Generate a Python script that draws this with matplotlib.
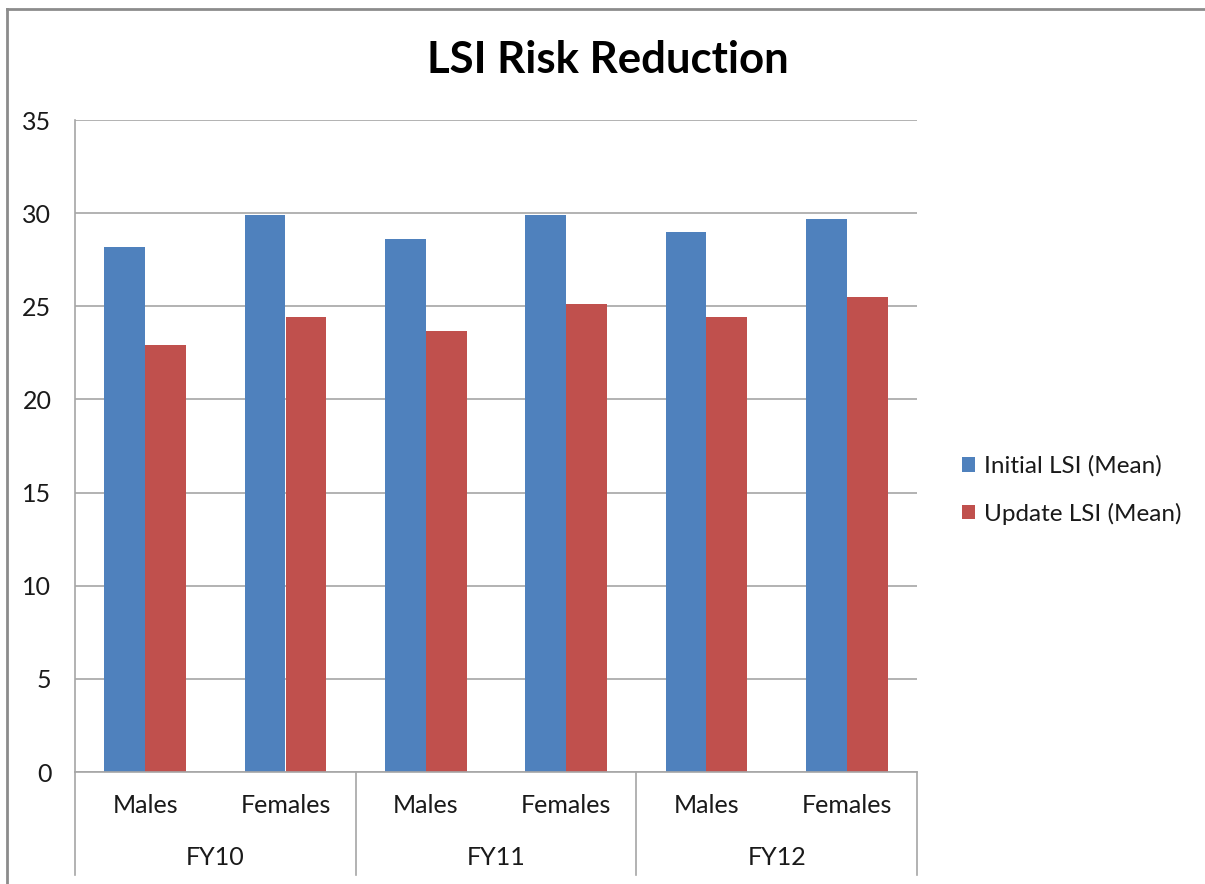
import matplotlib.pyplot as plt
from matplotlib.lines import Line2D

years = ['FY10', 'FY11', 'FY12']
groups = ['Males', 'Females', 'Males', 'Females', 'Males', 'Females']
initial_lsi = [28.2, 29.9, 28.6, 29.9, 29.0, 29.7]
update_lsi = [22.9, 24.4, 23.7, 25.1, 24.4, 25.5]

plt.rcParams['font.family'] = ['Lato', 'DejaVu Sans']

W, H = 1205, 884
fig = plt.figure(figsize=(W / 100, H / 100), dpi=100)
ax = fig.add_axes([75 / W, 1 - 772 / H, (917 - 75) / W, (772 - 120) / H])

x = list(range(len(groups)))
bw = 0.29
ax.bar([i - bw / 2 for i in x], initial_lsi, bw, color='#4F81BD', label='Initial LSI (Mean)')
ax.bar([i + bw / 2 for i in x], update_lsi, bw, color='#C0504D', label='Update LSI (Mean)')

ax.set_xlim(-0.5, len(groups) - 0.5)
ax.set_ylim(0, 35)
ax.set_yticks(range(0, 36, 5))
ax.yaxis.grid(True, color='#A6A6A6', linewidth=1.2)
ax.set_axisbelow(True)
for s in ['top', 'right']:
    ax.spines[s].set_visible(False)
for s in ['left', 'bottom']:
    ax.spines[s].set_color('#A6A6A6')
    ax.spines[s].set_linewidth(1.2)
ax.tick_params(axis='y', length=0, pad=17, labelsize=18, labelcolor='#1a1a1a')
ax.set_xticks([])

# two-level category axis
tr = ax.get_xaxis_transform()
for b in [-0.5, 1.5, 3.5, 5.5]:
    ax.plot([b, b], [0, -0.158], transform=tr, color='#A6A6A6', linewidth=1.2, clip_on=False)
for i, g in enumerate(groups):
    ax.text(i, -0.052, g, transform=tr, ha='center', va='center', fontsize=18, color='#1a1a1a')
for j, yr in enumerate(years):
    ax.text(2 * j + 0.5, -0.131, yr, transform=tr, ha='center', va='center', fontsize=18, color='#1a1a1a')

fig.text(608 / W, 1 - 60 / H, 'LSI Risk Reduction', ha='center', va='center',
         fontsize=31.5, fontweight='bold')

fig.legend(loc='center left', bbox_to_anchor=(952 / W, 1 - 490 / H), frameon=False,
           fontsize=17.5, handlelength=0.55, handleheight=0.55, handletextpad=0.35,
           labelspacing=1.05, borderaxespad=0, labelcolor='#1a1a1a')

# chart frame
fig.add_artist(Line2D([7 / W, 1], [1 - 9 / H, 1 - 9 / H], color='#8C8C8C', linewidth=2))
fig.add_artist(Line2D([7 / W, 7 / W], [0, 1 - 9 / H], color='#8C8C8C', linewidth=2))

fig.savefig('out.png', dpi=100)
